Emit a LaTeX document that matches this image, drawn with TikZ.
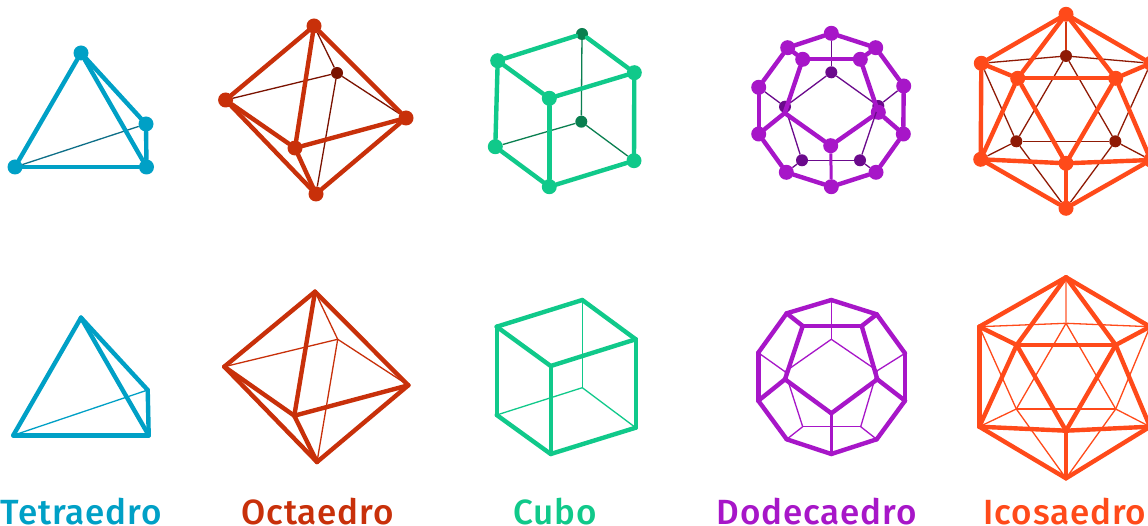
\documentclass[tikz,border=0pt]{standalone}
\usepackage{fontspec}
\setmainfont{Fira Sans Medium}
\definecolor{cT}{HTML}{00A0C6}\definecolor{dT}{HTML}{0E6F88}
\definecolor{cO}{HTML}{C8300A}\definecolor{dO}{HTML}{7A1200}
\definecolor{cC}{HTML}{10C98A}\definecolor{dC}{HTML}{0A7F50}
\definecolor{cD}{HTML}{A716C8}\definecolor{dD}{HTML}{6B0A8C}
\definecolor{cI}{HTML}{FF4A1A}\definecolor{dI}{HTML}{8F1A05}
\tikzset{
  dot/.style={circle,inner sep=0pt,minimum size=15pt,fill=#1},
  backdot/.style={circle,inner sep=0pt,minimum size=12pt,fill=#1},
  hard/.style={line width=4.4pt,line cap=round,line join=round},
  fine/.style={line width=1.3pt},
  lab/.style={anchor=base,inner sep=0pt,font=\fontsize{35}{35}\selectfont\addfontfeatures{LetterSpace=2.5}}
}
\newcommand{\Vd}[4]{\node[dot=#1] (#2) at (#3,#4) {};}
\newcommand{\Vb}[4]{\node[backdot=#1] (#2) at (#3,#4) {};}
\newcommand{\Vc}[3]{\coordinate (#1) at (#2,#3);}
\newcommand{\Hard}[2]{\foreach \a/\b in {#2}{\draw[hard,#1] (\a) -- (\b);}}
\newcommand{\Fine}[2]{\foreach \a/\b in {#2}{\draw[fine,#1] (\a) -- (\b);}}
\begin{document}
\begin{tikzpicture}[x=1pt,y=-1pt]
\clip (0,0) rectangle (1148,526);
\fill[white] (0,0) rectangle (1148,526);
% ---- top tetrahedron
\Vd{cT}{ta}{81}{53}\Vd{cT}{tb}{146}{124}\Vd{cT}{tc}{146.5}{167}\Vd{cT}{td}{15}{167}
\Fine{dT}{tb/td}
\Hard{cT}{ta/td,td/tc,ta/tc,ta/tb,tb/tc}
% ---- top octahedron
\Vd{cO}{oa}{314}{26}\Vb{dO}{ob}{337}{73}\Vd{cO}{oc}{225.6}{100}\Vd{cO}{od}{406}{118}\Vd{cO}{oe}{295}{148}\Vd{cO}{of}{316}{194}
\Fine{dO}{oa/ob,ob/oc,ob/od,ob/of}
\Hard{cO}{oa/oc,oa/od,oa/oe,oc/oe,oc/of,oe/od,oe/of,od/of}
% ---- top cube
\Vd{cC}{ca}{497.7}{60.7}\Vb{dC}{cb}{582}{34}\Vd{cC}{cc}{634.3}{72.7}\Vd{cC}{cd}{549.3}{98.3}
\Vd{cC}{ce}{495.3}{146.7}\Vb{dC}{cf}{581.3}{121.7}\Vd{cC}{cg}{634}{160.7}\Vd{cC}{ch}{549.3}{186.7}
\Fine{dC}{cb/cf,cf/ce,cf/cg}
\Hard{cC}{ca/cb,cb/cc,ca/cd,cd/cc,ca/ce,cd/ch,cc/cg,ce/ch,ch/cg}
% ---- top dodecahedron
\Vd{cD}{d1}{831.3}{33.3}\Vd{cD}{d2}{875.7}{47.7}\Vd{cD}{d3}{903.7}{86}\Vd{cD}{d4}{903.3}{134}\Vd{cD}{d5}{876}{172.3}
\Vd{cD}{d6}{831.3}{186.7}\Vd{cD}{d7}{786.3}{172.3}\Vd{cD}{d8}{758.7}{134}\Vd{cD}{d9}{758.7}{87.3}\Vd{cD}{d10}{787.7}{47.7}
\Vb{dD}{db1}{831.3}{72.3}\Vb{dD}{db2}{878.3}{106}\Vb{dD}{db3}{860}{160.3}\Vb{dD}{db4}{802}{160.3}\Vb{dD}{db5}{785}{106.7}
\Vd{cD}{df1}{802.7}{59.3}\Vd{cD}{df2}{860.3}{59.3}\Vd{cD}{df3}{878.3}{112.3}\Vd{cD}{df4}{830.7}{145.7}\Vc{df5}{784.7}{113}
\Fine{dD}{db1/db2,db2/db3,db3/db4,db4/db5,db5/db1,db1/d1,db2/d3,db3/d5,db4/d7,db5/d9}
\Hard{cD}{d1/d2,d2/d3,d3/d4,d4/d5,d5/d6,d6/d7,d7/d8,d8/d9,d9/d10,d10/d1,df1/df2,df2/df3,df3/df4,df4/df5,df5/df1,df1/d10,df2/d2,df3/d4,df5/d8}
\draw[cD,line width=3pt] (df4) -- (d6);
% ---- top icosahedron
\Vd{cI}{ia}{1066}{14.3}\Vd{cI}{ib}{981.3}{63.3}\Vd{cI}{ic}{1150.7}{63.3}\Vb{dI}{id}{1066}{56}
\Vd{cI}{ie}{1017.7}{78.3}\Vd{cI}{if}{1115.7}{78.3}\Vb{dI}{ig}{1016.3}{141.3}\Vb{dI}{ih}{1115.3}{141.3}
\Vd{cI}{ii}{980.7}{159.3}\Vd{cI}{ij}{1150.7}{160}\Vd{cI}{ik}{1066}{163.3}\Vd{cI}{il}{1066}{208.3}
\Fine{dI}{id/ib,id/ic,id/ig,id/ih,ib/ig,ic/ih,ig/ih,ig/ii,ih/ij,ig/il,ih/il}
\draw[cI!60!dI,line width=2.4pt] (ia) -- (id);
\Hard{cI}{ia/ib,ia/ic,ia/ie,ia/if,ib/ie,ic/if,ie/if,ib/ii,ic/ij,ie/ii,ie/ik,if/ik,if/ij,ii/ik,ij/ik,ii/il,ij/il,ik/il}
% ---- bottom tetrahedron
\Vc{Ta}{81}{317.7}\Vc{Tb}{147.7}{390}\Vc{Tc}{148.7}{435.3}\Vc{Td}{13.3}{435.3}
\Fine{cT}{Tb/Td}
\Hard{cT}{Ta/Td,Td/Tc,Ta/Tc,Ta/Tb,Tb/Tc}
% ---- bottom octahedron
\Vc{Oa}{315}{291.7}\Vc{Ob}{337.7}{339.3}\Vc{Oc}{224.3}{366.7}\Vc{Od}{408.3}{385.3}\Vc{Oe}{294.3}{415.7}\Vc{Of}{317}{462}
\Fine{cO}{Oa/Ob,Ob/Oc,Ob/Od,Ob/Of}
\Hard{cO}{Oa/Oc,Oa/Od,Oa/Oe,Oc/Oe,Oc/Of,Oe/Od,Oe/Of,Od/Of}
% ---- bottom cube
\Vc{Ca}{496.7}{326.7}\Vc{Cb}{582.3}{300}\Vc{Cc}{635.7}{339.3}\Vc{Cd}{550.7}{366}
\Vc{Ce}{496.7}{415}\Vc{Cf}{582.3}{387.7}\Vc{Cg}{635.7}{427.7}\Vc{Ch}{550.7}{454}
\Fine{cC}{Cb/Cf,Cf/Ce,Cf/Cg}
\Hard{cC}{Ca/Cb,Cb/Cc,Ca/Cd,Cd/Cc,Ca/Ce,Cd/Ch,Cc/Cg,Ce/Ch,Ch/Cg}
% ---- bottom dodecahedron
\Vc{D1}{831.3}{300}\Vc{D2}{876.7}{314.3}\Vc{D3}{905}{353.3}\Vc{D4}{905}{400.7}\Vc{D5}{876.7}{439.3}
\Vc{D6}{831.3}{454}\Vc{D7}{786.7}{439.3}\Vc{D8}{758.3}{400.7}\Vc{D9}{758.3}{352.7}\Vc{D10}{786.7}{313.3}
\Vc{Df1}{802.7}{326}\Vc{Df2}{861.7}{326}\Vc{Df3}{877.3}{379.3}\Vc{Df4}{831.3}{413.3}\Vc{Df5}{785}{379.3}
\Vc{Db1}{831.3}{339.3}\Vc{Db2}{877.3}{370.7}\Vc{Db3}{860.7}{426.7}\Vc{Db4}{802.7}{426.7}\Vc{Db5}{785}{371.7}
\Fine{cD}{Db1/Db2,Db2/Db3,Db3/Db4,Db4/Db5,Db5/Db1,Db1/D1,Db2/D3,Db3/D5,Db4/D7,Db5/D9}
\Hard{cD}{D1/D2,D2/D3,D3/D4,D4/D5,D5/D6,D6/D7,D7/D8,D8/D9,D9/D10,D10/D1,Df1/Df2,Df2/Df3,Df3/Df4,Df4/Df5,Df5/Df1,Df1/D10,Df2/D2,Df3/D4,Df5/D8}
\draw[cD,line width=3pt] (Df4) -- (D6);
% ---- bottom icosahedron
\Vc{Ia}{1066}{277.3}\Vc{Ib}{979.3}{326.7}\Vc{Ic}{1150}{326.7}\Vc{Id}{1066}{323.3}
\Vc{Ie}{1016.7}{345}\Vc{If}{1115.7}{345}\Vc{Ig}{1016.3}{409}\Vc{Ih}{1115.7}{409}
\Vc{Ii}{979.3}{426.7}\Vc{Ij}{1150}{426.7}\Vc{Ik}{1066}{430.7}\Vc{Il}{1066}{478.3}
\Fine{cI}{Id/Ib,Id/Ic,Id/Ig,Id/Ih,Ib/Ig,Ic/Ih,Ig/Ih,Ig/Ii,Ih/Ij,Ig/Il,Ih/Il}
\draw[cI!60,line width=2.4pt] (Ia) -- (Id);
\Hard{cI}{Ia/Ib,Ia/Ic,Ia/Ie,Ia/If,Ib/Ie,Ic/If,Ie/If,Ib/Ii,Ic/Ij,Ie/Ii,Ie/Ik,If/Ik,If/Ij,Ii/Ik,Ij/Ik,Ii/Il,Ij/Il,Ik/Il}
% ---- labels
\node[lab,text=cT] (l1) at (81,524) {Tetraedro};
\node[lab,text=cO] (l2) at (317.5,524) {Octaedro};
\node[lab,text=cC] (l3) at (555,524) {Cubo};
\node[lab,text=cD] (l4) at (816.5,524) {Dodecaedro};
\node[lab,text=cI] (l5) at (1065,524) {Icosaedro};
\end{tikzpicture}
\end{document}
